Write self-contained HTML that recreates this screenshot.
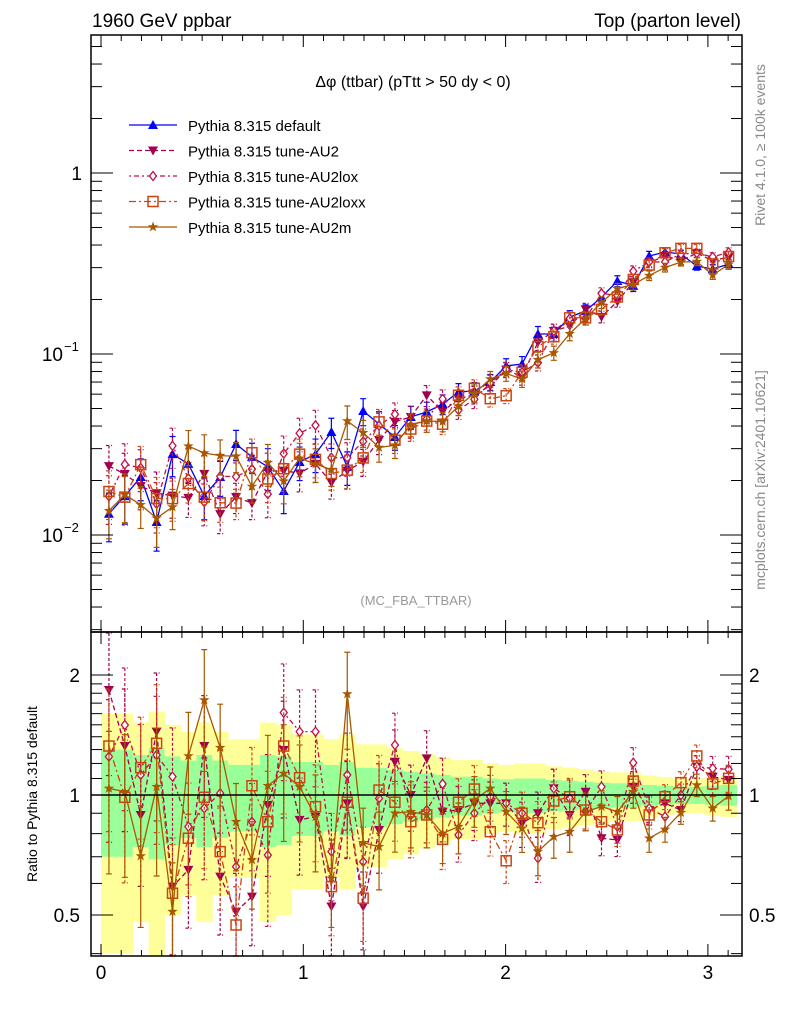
<!DOCTYPE html>
<html><head><meta charset="utf-8"><style>
html,body{margin:0;padding:0;background:#fff;}
svg{display:block;font-family:"Liberation Sans",sans-serif;}
</style></head><body>
<svg id="chart" width="786" height="1024" viewBox="0 0 786 1024" xmlns="http://www.w3.org/2000/svg">
<rect x="0" y="0" width="786" height="1024" fill="#fff"/>
<g id="ratioBands"></g>
<g id="marks"></g>
<g id="axes"></g>
<text x="92" y="27" font-size="19">1960 GeV ppbar</text>
<text x="741" y="27" font-size="19" text-anchor="end">Top (parton level)</text>
<text x="413" y="87" font-size="16" text-anchor="middle">Δφ (ttbar) (pTtt &gt; 50 dy &lt; 0)</text>
<text x="416" y="605" font-size="13" fill="#999" text-anchor="middle">(MC_FBA_TTBAR)</text>
<text transform="translate(765,145) rotate(-90)" font-size="14" fill="#888" text-anchor="middle">Rivet 4.1.0, ≥ 100k events</text>
<text transform="translate(765,480) rotate(-90)" font-size="14" fill="#888" text-anchor="middle">mcplots.cern.ch [arXiv:2401.10621]</text>
<text transform="translate(37,794) rotate(-90)" font-size="14" text-anchor="middle">Ratio to Pythia 8.315 default</text>
<g id="legend"></g>
</svg>
<script>
const binCount = 40;
const defaultValues = [0.0131,0.0164,0.0209,0.0118,0.0280,0.0247,0.0164,0.0209,0.0318,0.0270,0.0238,0.0175,0.0253,0.0280,0.0371,0.0238,0.0484,0.0410,0.0348,0.0449,0.0478,0.0529,0.0617,0.0625,0.070,0.086,0.088,0.129,0.129,0.160,0.173,0.206,0.253,0.238,0.348,0.366,0.357,0.306,0.295,0.314];
const relErrors = [0.30,0.30,0.26,0.31,0.25,0.22,0.26,0.22,0.19,0.19,0.26,0.25,0.21,0.21,0.19,0.21,0.17,0.17,0.155,0.145,0.133,0.123,0.112,0.112,0.101,0.095,0.10,0.10,0.09,0.086,0.08,0.074,0.07,0.07,0.06,0.055,0.05,0.05,0.055,0.06];
const ratioAU2 = [1.834,1.327,0.891,1.442,0.589,0.649,1.327,0.624,0.510,0.556,0.944,1.297,0.866,0.882,0.525,0.953,0.525,0.817,1.212,1.0,1.236,0.908,0.917,0.953,0.953,0.953,0.849,0.900,1.039,0.891,1.019,0.779,0.771,1.049,0.917,0.953,0.917,1.178,1.112,1.091];
const ratioAU2lox = [1.248,1.498,1.123,1.260,1.112,0.833,0.926,1.01,0.661,0.857,0.707,1.609,1.442,1.442,0.721,1.123,0.680,0.981,1.335,0.891,0.917,1.066,0.794,0.900,0.990,0.953,0.900,0.694,1.039,0.981,0.908,1.049,0.833,1.205,0.926,0.882,1.0,1.178,1.166,1.160];
const ratioAU2loxx = [1.327,0.987,1.171,1.348,0.567,0.779,0.987,0.721,0.472,1.055,0.857,1.327,1.105,0.935,0.589,0.959,0.551,1.029,0.959,0.857,0.891,0.774,0.959,1.035,0.809,0.684,0.900,0.852,0.966,0.990,0.917,0.857,0.817,1.084,0.891,0.990,1.074,1.253,1.066,1.101];
const ratioAU2m = [1.039,1.019,0.703,1.049,0.510,1.253,1.731,1.314,0.857,0.687,1.055,1.133,1.049,0.882,0.618,1.792,0.759,0.742,0.900,0.908,0.891,0.801,0.833,0.971,1.039,0.908,0.825,0.721,0.786,0.809,0.908,0.935,0.908,1.019,0.779,0.820,0.903,1.059,0.926,0.994];
const xTickLabels = ["0","1","2","3"];
const legendLabels = ["Pythia 8.315 default","Pythia 8.315 tune-AU2","Pythia 8.315 tune-AU2lox","Pythia 8.315 tune-AU2loxx","Pythia 8.315 tune-AU2m"];

const NS="http://www.w3.org/2000/svg";
const L=91,R=742,T=35,MB=632,B=956;
const X0=101, XS=202.3;
const xPix = v => X0 + v*XS;
const yMain = v => 173 - 181*(Math.log10(v));
const yRatio = r => 795 - 120*Math.log2(r);
const binW = Math.PI/binCount;
const centers = defaultValues.map((_,i)=>(i+0.5)*binW);

function mk(parent,tag,attrs){const e=document.createElementNS(NS,tag);for(const k in attrs)e.setAttribute(k,attrs[k]);parent.appendChild(e);return e;}
const marks=document.getElementById('marks'), axes=document.getElementById('axes'), bands=document.getElementById('ratioBands'), legend=document.getElementById('legend');

defaultValues.forEach((v,i)=>{
  const x1=Math.max(L,xPix(i*binW)), x2=Math.min(R,xPix((i+1)*binW)), e=relErrors[i];
  const yt=Math.max(MB,yRatio(1+2*e)), yb=Math.min(B,yRatio(Math.max(0.05,1-2*e)));
  const y=mk(bands,'rect',{x:x1,y:yt,width:x2-x1+0.5,height:yb-yt,fill:'#ffff99'});
  
  
  const gt=yRatio(1+e), gb=yRatio(1-e);
  const g=mk(bands,'rect',{x:x1,y:gt,width:x2-x1+0.5,height:gb-gt,fill:'#99ff99'});
  
  
});

const series=[
 {name:'default',color:'#0000ff',dash:'',marker:'tri-up',ratios:defaultValues.map(()=>1)},
 {name:'au2',color:'#a0004f',dash:'5,3',marker:'tri-down',ratios:ratioAU2},
 {name:'au2lox',color:'#c01048',dash:'2,3,5,3',marker:'diamond',ratios:ratioAU2lox},
 {name:'au2loxx',color:'#cc4411',dash:'7,3,2,3',marker:'square',ratios:ratioAU2loxx},
 {name:'au2m',color:'#a85800',dash:'',marker:'star',ratios:ratioAU2m}
];

function marker(g,type,x,y,c){
  let e;
  if(type==='tri-up') e=mk(g,'polygon',{points:`${x},${y-5} ${x-5},${y+4} ${x+5},${y+4}`,fill:c});
  else if(type==='tri-down') e=mk(g,'polygon',{points:`${x},${y+5} ${x-5},${y-4} ${x+5},${y-4}`,fill:c});
  else if(type==='diamond') e=mk(g,'polygon',{points:`${x},${y-4.5} ${x+3.5},${y} ${x},${y+4.5} ${x-3.5},${y}`,fill:'#fff',stroke:c,'stroke-width':1.3});
  else if(type==='square') e=mk(g,'rect',{x:x-5,y:y-5,width:10,height:10,fill:'none',stroke:c,'stroke-width':1.5});
  else {let p=[];for(let k=0;k<10;k++){const a=-Math.PI/2+k*Math.PI/5,r=k%2?2.2:5.5;p.push((x+r*Math.cos(a)).toFixed(1)+','+(y+r*Math.sin(a)).toFixed(1));}
    e=mk(g,'polygon',{points:p.join(' '),fill:c});}
  return e;
}

series.forEach((s,si)=>{
  const g=mk(marks,'g',{});
  
  
  const vals=defaultValues.map((v,i)=>v*s.ratios[i]);
  const pts=vals.map((v,i)=>xPix(centers[i]).toFixed(1)+','+yMain(v).toFixed(1)).join(' ');
  const pl=mk(g,'polyline',{points:pts,fill:'none',stroke:s.color,'stroke-width':1.3,'stroke-dasharray':s.dash});
  
  
  const rpts=s.ratios.map((r,i)=>xPix(centers[i]).toFixed(1)+','+yRatio(r).toFixed(1)).join(' ');
  if(si>0){
    const rl=mk(g,'polyline',{points:rpts,fill:'none',stroke:s.color,'stroke-width':1.3,'stroke-dasharray':s.dash});
    
    
  }
  vals.forEach((v,i)=>{
    const x=xPix(centers[i]), e=relErrors[i];
    const y1=yMain(v*(1+e)), y2=yMain(v*Math.max(0.2,1-e));
    const eb=mk(g,'path',{d:`M${x},${y1}V${y2}M${x-3},${y1}h6M${x-3},${y2}h6`,stroke:s.color,'stroke-width':1.2,fill:'none','stroke-dasharray':s.dash?'3,2':''});
    
    
    const m=marker(g,s.marker,x,yMain(v),s.color);
    
    
    if(si>0){
      const r=s.ratios[i], er=1.3*e;
      const ry1=Math.max(MB,yRatio(r*(1+er))), ry2=Math.min(B,yRatio(r*Math.max(0.1,1-er)));
      const reb=mk(g,'path',{d:`M${x},${ry1}V${ry2}M${x-3},${ry1}h6M${x-3},${ry2}h6`,stroke:s.color,'stroke-width':1.2,fill:'none','stroke-dasharray':s.dash?'3,2':''});
      
      
      const yr=yRatio(r);
      if(yr>MB&&yr<B){const rm=marker(g,s.marker,x,yr,s.color);
        
        }
    }
  });
});

function line(x1,y1,x2,y2,w){return mk(axes,'line',{x1,y1,x2,y2,stroke:'#000','stroke-width':w||1});}
const fr1=mk(axes,'rect',{x:L,y:T,width:R-L,height:MB-T,fill:'none',stroke:'#000','stroke-width':1.5});


const fr2=mk(axes,'rect',{x:L,y:MB,width:R-L,height:B-MB,fill:'none',stroke:'#000','stroke-width':1.5});


const ref=line(L,795,R,795,1.5);


for(let k=0;k<=31;k++){const v=k/10,x=xPix(v);const len=k%10===0?12:6;
  [T,MB].forEach(y=>line(x,y,x,y+len));
  [MB,B].forEach(y=>line(x,y,x,y-len));}
xTickLabels.forEach((t,i)=>{const tx=mk(axes,'text',{x:xPix(i),y:979,'font-size':19,'text-anchor':'middle'});tx.textContent=t;
  
  });
for(let d=-3;d<=0;d++)for(let m=1;m<=9;m++){const v=m*Math.pow(10,d);const y=yMain(v);if(y<T||y>MB)continue;const len=m===1?22:11;line(L,y,L+len,y);line(R,y,R-len,y);}
[[1,'1'],[0.1,'10'],[0.01,'10']].forEach(([v,t],i)=>{const y=yMain(v);
  const tx=mk(axes,'text',{x:i===0?82:63,y:y+7,'font-size':19,'text-anchor':'end'});tx.textContent=t;
  
  
  if(i>0){const sp=mk(axes,'text',{x:64,y:y-3,'font-size':13});sp.textContent=i===1?'−1':'−2';
    
    }});
[0.4,0.5,0.6,0.7,0.8,0.9,1,1.1,1.2,1.3,1.4,1.5,1.6,1.7,1.8,1.9,2].forEach(r=>{const y=yRatio(r);if(y>B)return;const len=(r===0.5||r===1||r===2)?22:11;line(L,y,L+len,y);line(R,y,R-len,y);});
[[2,'2'],[1,'1'],[0.5,'0.5']].forEach(([r,t])=>{const y=yRatio(r)+7;
  const a=mk(axes,'text',{x:80,y,'font-size':19,'text-anchor':'end'});a.textContent=t;
  
  
  const b=mk(axes,'text',{x:749,y,'font-size':19});b.textContent=t;
  
  });

legendLabels.forEach((lab,i)=>{const s=series[i];const y=125+i*25.5;
  const g=mk(legend,'g',{});
  
  
  mk(g,'line',{x1:129,y1:y,x2:177,y2:y,stroke:s.color,'stroke-width':1.3,'stroke-dasharray':s.dash});
  marker(g,s.marker,153,y,s.color);
  const t=mk(g,'text',{x:188,y:y+6,'font-size':15});t.textContent=lab;});
</script>
</body></html>
